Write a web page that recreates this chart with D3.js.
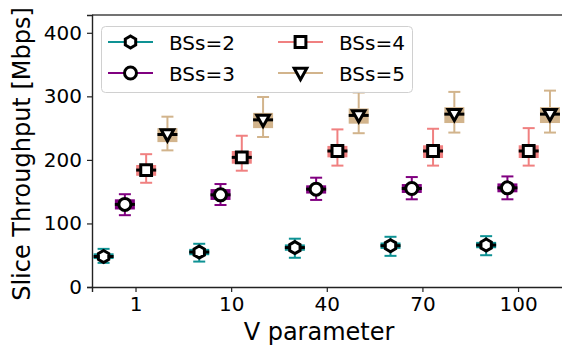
<!DOCTYPE html>
<html>
<head>
<meta charset="utf-8">
<script src="https://cdn.jsdelivr.net/npm/d3@7/dist/d3.min.js"></script>
<style>
  html, body { margin: 0; padding: 0; background: #fff; }
  svg { display: block; font-family: "DejaVu Sans", sans-serif; }
</style>
</head>
<body>
<svg id="chart" width="562" height="351"></svg>
<script>
// V parameter values on the x axis
const vLabels = ["1", "10", "40", "70", "100"];
const yTicks = [0, 100, 200, 300, 400];

// Series names, colours and marker shapes
const seriesNames = ["BSs=2", "BSs=3", "BSs=4", "BSs=5"];
const seriesColors = ["#0e9294", "#800080", "#f08080", "#d2b48c"];
const seriesMarkers = ["hexagon", "circle", "square", "triangleDown"];

// Box statistics per series, one entry per V value
const medians = [
  [48, 55, 62, 65, 66],
  [130, 145, 154, 155, 156],
  [184, 204, 214, 214, 214],
  [240, 263, 270, 272, 272]
];
const q1s = [
  [44, 50, 57, 60, 61],
  [122, 137, 147, 148, 149],
  [175, 194, 204, 203, 203],
  [228, 250, 257, 258, 258]
];
const q3s = [
  [53, 60, 67, 70, 71],
  [138, 154, 160, 162, 163],
  [192, 214, 222, 223, 223],
  [250, 274, 281, 283, 283]
];
const whiskerLows = [
  [38, 40, 46, 49, 50],
  [113, 129, 137, 138, 138],
  [164, 183, 191, 191, 191],
  [215, 236, 242, 243, 243]
];
const whiskerHighs = [
  [60, 68, 76, 79, 80],
  [146, 162, 172, 173, 174],
  [209, 238, 248, 249, 250],
  [268, 299, 306, 307, 309]
];

const svg = d3.select("#chart");
const plotLeft = 92, plotRight = 563, plotTop = 15, plotBottom = 287;

const x = d3.scaleLinear().domain([-0.455, 4.47]).range([plotLeft, plotRight]);
const y = d3.scaleLinear().domain([0, 428]).range([plotBottom, plotTop]);

const offsetStep = 0.2225;   // in group units, between series within a group
const boxW = 20, capW = 12;

// Marker path generators
function markerPath(kind, r) {
  if (kind === "hexagon") {
    const pts = d3.range(6).map(i => {
      const a = -Math.PI / 2 + i * Math.PI / 3;
      return [r * Math.cos(a), r * Math.sin(a)];
    });
    return "M" + pts.map(p => p.join(",")).join("L") + "Z";
  }
  if (kind === "circle") return d3.symbol(d3.symbolCircle, Math.PI * r * r)();
  if (kind === "square") {
    const s = r * 0.9;
    return `M${-s},${-s}H${s}V${s}H${-s}Z`;
  }
  if (kind === "triangleDown") {
    const s = r * 1.05;
    return `M${-s},${-s * 0.75}L${s},${-s * 0.75}L0,${s * 1.05}Z`;
  }
}

// Axes frame
svg.append("line").attr("x1", plotLeft).attr("x2", plotRight).attr("y1", plotTop).attr("y2", plotTop)
  .attr("stroke", "#444").attr("stroke-width", 1.4);

const gx = svg.append("g").attr("transform", `translate(0,${plotBottom})`)
  .call(d3.axisBottom(x).tickValues(d3.range(vLabels.length))
    .tickFormat(i => vLabels[i]).tickSize(5).tickPadding(5));
gx.select(".domain").attr("stroke", "#222").attr("stroke-width", 1.4);
gx.selectAll(".tick line").attr("stroke", "#222").attr("stroke-width", 1.2);
gx.selectAll(".tick text").attr("font-size", 20).attr("fill", "#000")
  .attr("font-family", "DejaVu Sans");

const gy = svg.append("g").attr("transform", `translate(${plotLeft},0)`)
  .call(d3.axisLeft(y).tickValues(yTicks).tickSize(5).tickPadding(5));
gy.select(".domain").attr("stroke", "#222").attr("stroke-width", 1.4);
gy.selectAll(".tick line").attr("stroke", "#222").attr("stroke-width", 1.2);
gy.selectAll(".tick text").attr("font-size", 20).attr("fill", "#000")
  .attr("font-family", "DejaVu Sans");

// Axis titles
svg.append("text").attr("x", (plotLeft + 562) / 2 - 8).attr("y", 340)
  .attr("text-anchor", "middle").attr("font-size", 24).text("V parameter");
svg.append("text").attr("transform", `translate(30,${(plotTop + plotBottom) / 2 + 3}) rotate(-90)`)
  .attr("text-anchor", "middle").attr("font-size", 24).text("Slice Throughput [Mbps]");

// Boxes
seriesNames.forEach((name, s) => {
  const col = seriesColors[s];
  const g = svg.append("g");
  vLabels.forEach((v, i) => {
    const cx = x(i + (s - 1.5) * offsetStep);
    // whiskers
    g.append("line").attr("x1", cx).attr("x2", cx)
      .attr("y1", y(whiskerHighs[s][i])).attr("y2", y(q3s[s][i]))
      .attr("stroke", col).attr("stroke-width", 2);
    g.append("line").attr("x1", cx).attr("x2", cx)
      .attr("y1", y(q1s[s][i])).attr("y2", y(whiskerLows[s][i]))
      .attr("stroke", col).attr("stroke-width", 2);
    // caps
    [whiskerHighs[s][i], whiskerLows[s][i]].forEach(val => {
      g.append("line").attr("x1", cx - capW / 2).attr("x2", cx + capW / 2)
        .attr("y1", y(val)).attr("y2", y(val))
        .attr("stroke", col).attr("stroke-width", 2);
    });
    // box
    g.append("rect").attr("x", cx - boxW / 2).attr("width", boxW)
      .attr("y", y(q3s[s][i])).attr("height", y(q1s[s][i]) - y(q3s[s][i]))
      .attr("fill", col);
    // median
    g.append("line").attr("x1", cx - boxW / 2).attr("x2", cx + boxW / 2)
      .attr("y1", y(medians[s][i])).attr("y2", y(medians[s][i]))
      .attr("stroke", "#000").attr("stroke-width", 3);
    // marker
    g.append("path").attr("d", markerPath(seriesMarkers[s], 6))
      .attr("transform", `translate(${cx},${y(medians[s][i])})`)
      .attr("fill", "#fff").attr("stroke", "#000").attr("stroke-width", 3);
  });
});

// Legend
const legend = svg.append("g");
legend.append("rect").attr("x", 101.5).attr("y", 26.5).attr("width", 311).attr("height", 66)
  .attr("rx", 4).attr("fill", "#fff").attr("fill-opacity", 0.8)
  .attr("stroke", "#d0d0d0").attr("stroke-width", 1);
const legendCols = [108, 278], legendRows = [42, 73];
seriesNames.forEach((name, s) => {
  const lx = legendCols[Math.floor(s / 2)], ly = legendRows[s % 2];
  legend.append("line").attr("x1", lx).attr("x2", lx + 45).attr("y1", ly).attr("y2", ly)
    .attr("stroke", seriesColors[s]).attr("stroke-width", 2);
  legend.append("path").attr("d", markerPath(seriesMarkers[s], 6))
    .attr("transform", `translate(${lx + 22.5},${ly})`)
    .attr("fill", "#fff").attr("stroke", "#000").attr("stroke-width", 3);
  legend.append("text").attr("x", lx + 61).attr("y", ly + 7.5)
    .attr("font-size", 20).text(name);
});
</script>
</body>
</html>
